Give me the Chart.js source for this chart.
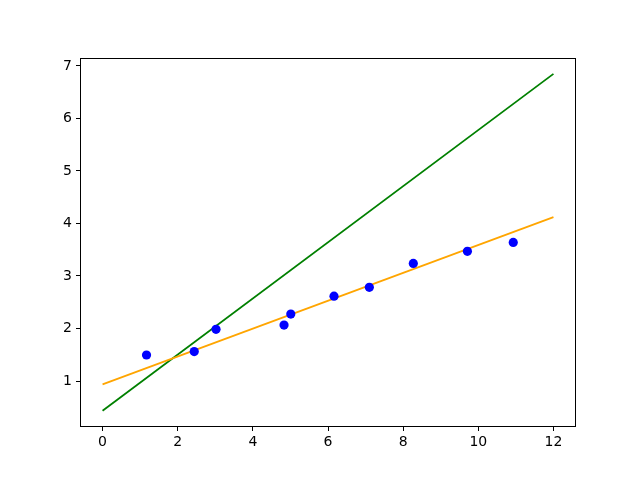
<!DOCTYPE html>
<html>
<head>
<meta charset="utf-8">
<script src="https://cdn.jsdelivr.net/npm/chart.js@4.4.1/dist/chart.umd.min.js"></script>
<style>
  html, body { margin: 0; padding: 0; background: #fff; }
  #wrap { width: 640px; height: 480px; }
</style>
</head>
<body>
<div id="wrap"><canvas id="chart" width="640" height="480"></canvas></div>
<script>
// scatter points
const pointsX = [1.17, 2.44, 3.02, 4.83, 5.01, 6.16, 7.10, 8.27, 9.71, 10.93];
const pointsY = [1.495, 1.56, 1.985, 2.065, 2.275, 2.615, 2.785, 3.24, 3.47, 3.64];

// fitted lines (end points at x = 0 and x = 12)
const lineX = [0, 12];
const orangeY = [0.935, 4.12];
const greenY = [0.435, 6.85];

// ticks
const xTicks = [0, 2, 4, 6, 8, 10, 12];
const yTicks = [1, 2, 3, 4, 5, 6, 7];

const toXY = (xs, ys) => xs.map((x, i) => ({ x: x, y: ys[i] }));

// frame around the plot area, all four sides
const frame = {
  id: "frame",
  afterDraw(chart) {
    const { ctx, chartArea: a } = chart;
    ctx.save();
    ctx.strokeStyle = "#000";
    ctx.lineWidth = 1;
    ctx.strokeRect(Math.round(a.left) + 0.5, Math.round(a.top) + 0.5,
      Math.round(a.right - a.left) - 1, Math.round(a.bottom - a.top) - 1);
    ctx.restore();
  }
};

const tickFont = { family: "DejaVu Sans", size: 14 };

new Chart(document.getElementById("chart"), {
  type: "scatter",
  data: {
    datasets: [
      {
        label: "data",
        data: toXY(pointsX, pointsY),
        backgroundColor: "#0000ff",
        borderColor: "#0000ff",
        pointRadius: 4.6,
        pointBorderWidth: 0,
        order: 0
      },
      {
        type: "line",
        label: "orange",
        data: toXY(lineX, orangeY),
        borderColor: "#ffa500",
        borderWidth: 1.8,
        pointRadius: 0,
        fill: false,
        order: 1
      },
      {
        type: "line",
        label: "green",
        data: toXY(lineX, greenY),
        borderColor: "#008000",
        borderWidth: 1.8,
        pointRadius: 0,
        fill: false,
        order: 2
      }
    ]
  },
  options: {
    responsive: false,
    animation: false,
    layout: { padding: { left: 20, right: 64, top: 58, bottom: 23 } },
    plugins: { legend: { display: false }, tooltip: { enabled: false } },
    scales: {
      x: {
        type: "linear",
        min: -0.6,
        max: 12.6,
        afterBuildTicks: (s) => { s.ticks = xTicks.map((v) => ({ value: v })); },
        afterFit: (s) => { s.height = 30; },
        border: { display: false },
        grid: { display: true, drawOnChartArea: false, drawTicks: true, tickLength: 4, color: "#000" },
        ticks: { color: "#000", font: tickFont, padding: 3, maxRotation: 0 }
      },
      y: {
        type: "linear",
        min: 0.124,
        max: 7.152,
        afterBuildTicks: (s) => { s.ticks = yTicks.map((v) => ({ value: v })); },
        afterFit: (s) => { s.width = 60; },
        border: { display: false },
        grid: { display: true, drawOnChartArea: false, drawTicks: true, tickLength: 4, color: "#000" },
        ticks: { color: "#000", font: tickFont, padding: 4 }
      }
    }
  },
  plugins: [frame]
});
</script>
</body>
</html>
